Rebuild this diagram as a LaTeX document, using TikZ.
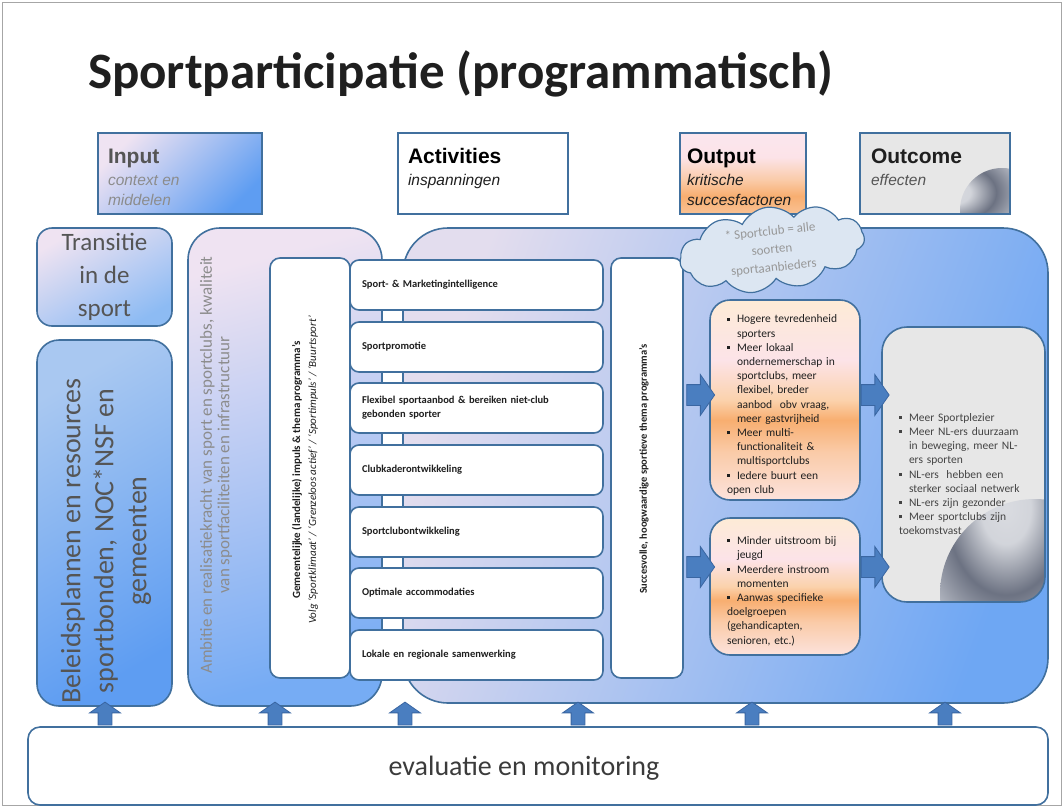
\documentclass[tikz,border=0pt]{standalone}
\usepackage{fontspec}
\setmainfont{Carlito}
\newfontfamily\arialf{Liberation Sans}
\usetikzlibrary{shapes.symbols,shapes.arrows}

\definecolor{bordc}{HTML}{41709E}
\definecolor{framec}{HTML}{A6A6A6}
\definecolor{txtc}{HTML}{1F1F1F}
\definecolor{greytxt}{HTML}{555555}
\definecolor{lightgreytxt}{HTML}{8C8C8C}
\definecolor{lav}{HTML}{EFE3F2}
\definecolor{lavblue}{HTML}{E3DDEE}
\definecolor{paleblue}{HTML}{A9C8F1}
\definecolor{midblue}{HTML}{8DBBF3}
\definecolor{deepblue}{HTML}{5E9DF2}
\definecolor{arrowc}{HTML}{4A7EC0}
\definecolor{arrowd}{HTML}{3A66A2}
\definecolor{cloudc}{HTML}{DCE6F2}
\definecolor{ocream}{HTML}{FDEBD6}
\definecolor{opink}{HTML}{FCE3E8}
\definecolor{olight}{HTML}{FBD2AC}
\definecolor{oorange}{HTML}{F8AE70}
\definecolor{opeach}{HTML}{FACBA8}
\definecolor{obottom}{HTML}{FCE2DC}
\definecolor{hpink}{HTML}{FBE6EE}
\definecolor{hpeach}{HTML}{F9C294}
\definecolor{glight}{HTML}{E7E7E7}
\definecolor{gdark}{HTML}{6C7282}
\definecolor{gmid}{HTML}{B4B8C2}

% orange fill of the output boxes (bottom = 25bp, top = 75bp)
\pgfdeclareverticalshading{outputfill}{100bp}{%
  color(0bp)=(obottom); color(25bp)=(obottom); color(37bp)=(opeach);
  color(45bp)=(oorange); color(50bp)=(olight); color(60bp)=(opink);
  color(75bp)=(ocream); color(100bp)=(ocream)}
\pgfdeclareverticalshading{outputhead}{100bp}{%
  color(0bp)=(hpeach); color(25bp)=(hpeach); color(36bp)=(oorange);
  color(46bp)=(opeach); color(60bp)=(opink); color(75bp)=(hpink);
  color(100bp)=(hpink)}
% dark ring in the lower right corner of the outcome boxes
\pgfdeclareradialshading{cornerglow}{\pgfpoint{0bp}{0bp}}{%
  color(0bp)=(white!50!gmid); color(5bp)=(white!40!gmid); color(12bp)=(gdark);
  color(19bp)=(gmid); color(25bp)=(glight); color(50bp)=(glight)}

\newcommand{\sqitem}[1]{\par\hangindent=10pt\hangafter=1\noindent
  \makebox[10pt][l]{\raisebox{2.4pt}{\rule{3pt}{3pt}}}#1}

\tikzset{
  every node/.style={inner sep=0pt, outer sep=0pt},
  box/.style={draw=bordc, line width=1.6pt},
  headbox/.style={box, minimum height=81pt},
  headtitle/.style={anchor=base west, font=\arialf\fontsize{21}{24}\selectfont\bfseries},
  headsub/.style={anchor=base west, align=left, font=\arialf\fontsize{15.5}{19.5}\selectfont\itshape},
  actbox/.style={box, fill=white, rounded corners=9pt, minimum width=253pt,
    minimum height=50pt, text width=229pt, inner xsep=12pt, align=left,
    font=\fontsize{10.5}{14}\selectfont\bfseries, text=txtc},
  bandbox/.style={box, fill=white, rounded corners=10pt, minimum height=420pt},
  outbox/.style={box, rounded corners=20pt, minimum width=150pt, shading=outputfill},
  bullettext/.style={anchor=west, text width=140pt, font=\fontsize{11.5}{14.2}\selectfont},
  rarrow/.style={single arrow, fill=arrowc, draw=arrowd, line width=0.8pt,
    inner ysep=10pt, minimum height=28pt, single arrow head extend=10pt,
    single arrow tip angle=110},
  uarrow/.style={single arrow, fill=arrowc, draw=arrowd, line width=0.8pt,
    rotate=90, inner ysep=6.5pt, minimum height=23pt,
    single arrow head extend=8.5pt, single arrow tip angle=110},
}

\begin{document}
\begin{tikzpicture}[x=1pt,y=-1pt]
\useasboundingbox (0,0) rectangle (1064,806);
\fill[white] (0,0) rectangle (1064,806);
\draw[framec, line width=0.8pt] (2,2) rectangle (1061,805);

% title
\node[anchor=base west, font=\fontsize{51}{56}\selectfont\bfseries, text=txtc]
  (title) at (88,88) {Sportparticipatie (programmatisch)};

% column headers (multi-line subtitles are placed by their last baseline)
\node[headbox, minimum width=164pt, top color=lav, bottom color=deepblue, shading angle=45]
  (hin) at (180,173.5) {};
\node[headtitle, text=greytxt] (hintitle) at (108,163) {Input};
\node[headsub, text=lightgreytxt] (hinsub) at (108,205) {context en\\middelen};

\node[headbox, minimum width=170pt, fill=white] (hact) at (483,173.5) {};
\node[headtitle, text=black] (hacttitle) at (408,163) {Activities};
\node[headsub, text=txtc] (hactsub) at (408,185) {inspanningen};

\node[headbox, minimum width=126pt, shading=outputhead] (hout) at (743,173.5) {};
\node[headtitle, text=black] (houttitle) at (687,163) {Output};
\node[headsub, text=txtc] (houtsub) at (687,205) {kritische\\succesfactoren};

\node[headbox, minimum width=150pt, fill=glight,
  path picture={\fill[shading=cornerglow]
    ([shift={(-8,-4)}]path picture bounding box.south east) circle (42pt);}]
  (houtc) at (935,173.5) {};
\node[headtitle, text=txtc] (houtctitle) at (871,163) {Outcome};
\node[headsub, text=greytxt] (houtcsub) at (871,185) {effecten};

% large background panels
\node[box, rounded corners=45pt, minimum width=645pt, minimum height=475pt,
  top color=lavblue, bottom color=deepblue!90!white, shading angle=70]
  (big) at (725.5,465.5) {};
\node[box, rounded corners=32pt, minimum width=194pt, minimum height=478pt,
  top color=lav, bottom color=deepblue!85!white, shading angle=15]
  (amb) at (285,467) {};
\node[rotate=90, align=center, text=lightgreytxt, font=\fontsize{17}{17.5}\selectfont]
  (ambtxt) at (216,465) {Ambitie en realisatiekracht van sport en sportclubs, kwaliteit\\
  van sportfaciliteiten en infrastructuur};

% left column
\node[box, rounded corners=15pt, minimum width=135pt, minimum height=98pt,
  top color=lav, bottom color=midblue, shading angle=30]
  (trans) at (104.5,277) {};
\node[align=center, text=greytxt, font=\fontsize{25}{33}\selectfont]
  (transtxt) at (104.5,277) {Transitie\\in de\\sport};
\node[box, rounded corners=22pt, minimum width=135pt, minimum height=366pt,
  top color=paleblue, bottom color=deepblue, shading angle=30]
  (bel) at (104.5,523) {};
\node[rotate=90, align=center, text=greytxt, font=\fontsize{28}{33}\selectfont]
  (beltxt) at (106,541) {Beleidsplannen en resources\\sportbonden, NOC*NSF en\\gemeenten};

% programme bands
\node[bandbox, minimum width=80pt] (gem) at (310,468) {};
\node[rotate=90, align=center, text=txtc, font=\fontsize{11}{16}\selectfont]
  (gemtxt) at (305,470) {\textbf{Gemeentelijke (landelijke) impuls \& thema programma's}\\
  \textit{Volg ‘Sportklimaat’ / ‘Grenzeloos actief’ / ‘Sportimpuls’ / ‘Buurtsport’}};
\node[bandbox, minimum width=72pt] (succ) at (647,468) {};
\node[rotate=90, text=txtc, font=\fontsize{10.5}{14}\selectfont\bfseries]
  (succtxt) at (644,469) {Succesvolle, hoogwaardige sportieve thema programma's};

% activities
\node[actbox] (act1) at (476.5,285) {Sport- \& Marketingintelligence};
\node[actbox] (act2) at (476.5,347) {Sportpromotie};
\node[actbox] (act3) at (476.5,408) {Flexibel sportaanbod \& bereiken niet-club\\gebonden sporter};
\node[actbox] (act4) at (476.5,470) {Clubkaderontwikkeling};
\node[actbox] (act5) at (476.5,532) {Sportclubontwikkeling};
\node[actbox] (act6) at (476.5,593) {Optimale accommodaties};
\node[actbox] (act7) at (476.5,655) {Lokale en regionale samenwerking};

% output boxes
\node[outbox, minimum height=200pt] (out1) at (785,400) {};
\node[bullettext, text=txtc] (out1txt) at (727,402) {\raggedright
  \sqitem{Hogere tevredenheid\newline sporters}
  \sqitem{Meer lokaal\newline ondernemerschap in\newline sportclubs, meer\newline flexibel, breder\newline aanbod\ \ obv vraag,\newline meer gastvrijheid}
  \sqitem{Meer multi-\newline functionaliteit \&\newline multisportclubs}
  \sqitem{Iedere buurt een\newline open club}};
\node[outbox, minimum height=137pt] (out2) at (785,586.5) {};
\node[bullettext, text=txtc] (out2txt) at (727,588) {\raggedright
  \sqitem{Minder uitstroom bij\newline jeugd}
  \sqitem{Meerdere instroom\newline momenten}
  \sqitem{Aanwas specifieke\newline doelgroepen\newline (gehandicapten,\newline senioren, etc.)}};

% outcome box
\node[box, rounded corners=25pt, minimum width=163pt, minimum height=275pt, fill=glight,
  path picture={\fill[shading=cornerglow]
    ([shift={(-10,-8)}]path picture bounding box.south east) circle (95pt);}]
  (outc) at (963.5,464.5) {};
\node[bullettext, text=greytxt!80!black] (outctxt) at (899,471) {\raggedright
  \sqitem{Meer Sportplezier}
  \sqitem{Meer NL-ers duurzaam\newline in beweging, meer NL-\newline ers sporten}
  \sqitem{NL-ers\ \ hebben een\newline sterker sociaal netwerk}
  \sqitem{NL-ers zijn gezonder}
  \sqitem{Meer sportclubs zijn\newline toekomstvast}};

% block arrows between the columns
\node[rarrow] (ar1) at (697,395) {};
\node[rarrow] (ar2) at (697,567) {};
\node[rarrow] (ar3) at (871.5,395) {};
\node[rarrow] (ar4) at (871.5,567) {};

% footnote cloud, tilted upwards to the right
\node[cloud, cloud puffs=11, cloud puff arc=110, aspect=2.2, draw=bordc, fill=cloudc,
  line width=1.2pt, minimum width=186pt, minimum height=84pt, rotate=8]
  (cloud) at (772,249) {};
\node[rotate=6, align=center, text=lightgreytxt!90!white, font=\fontsize{13}{18}\selectfont]
  (cloudtxt) at (772,250) {* Sportclub = alle\\soorten\\sportaanbieders};

% evaluation bar with upward arrows
\node[box, fill=white, rounded corners=12pt, minimum width=1020pt, minimum height=78pt]
  (eval) at (538,766) {};
\node[text=greytxt!70!black, font=\fontsize{28}{30}\selectfont] (evaltxt) at (524,768)
  {evaluatie en monitoring};
\foreach \i/\x in {1/105,2/275,3/405,4/578,5/752,6/945}
  \node[uarrow] (up\i) at (\x,716) {};
\end{tikzpicture}
\end{document}
